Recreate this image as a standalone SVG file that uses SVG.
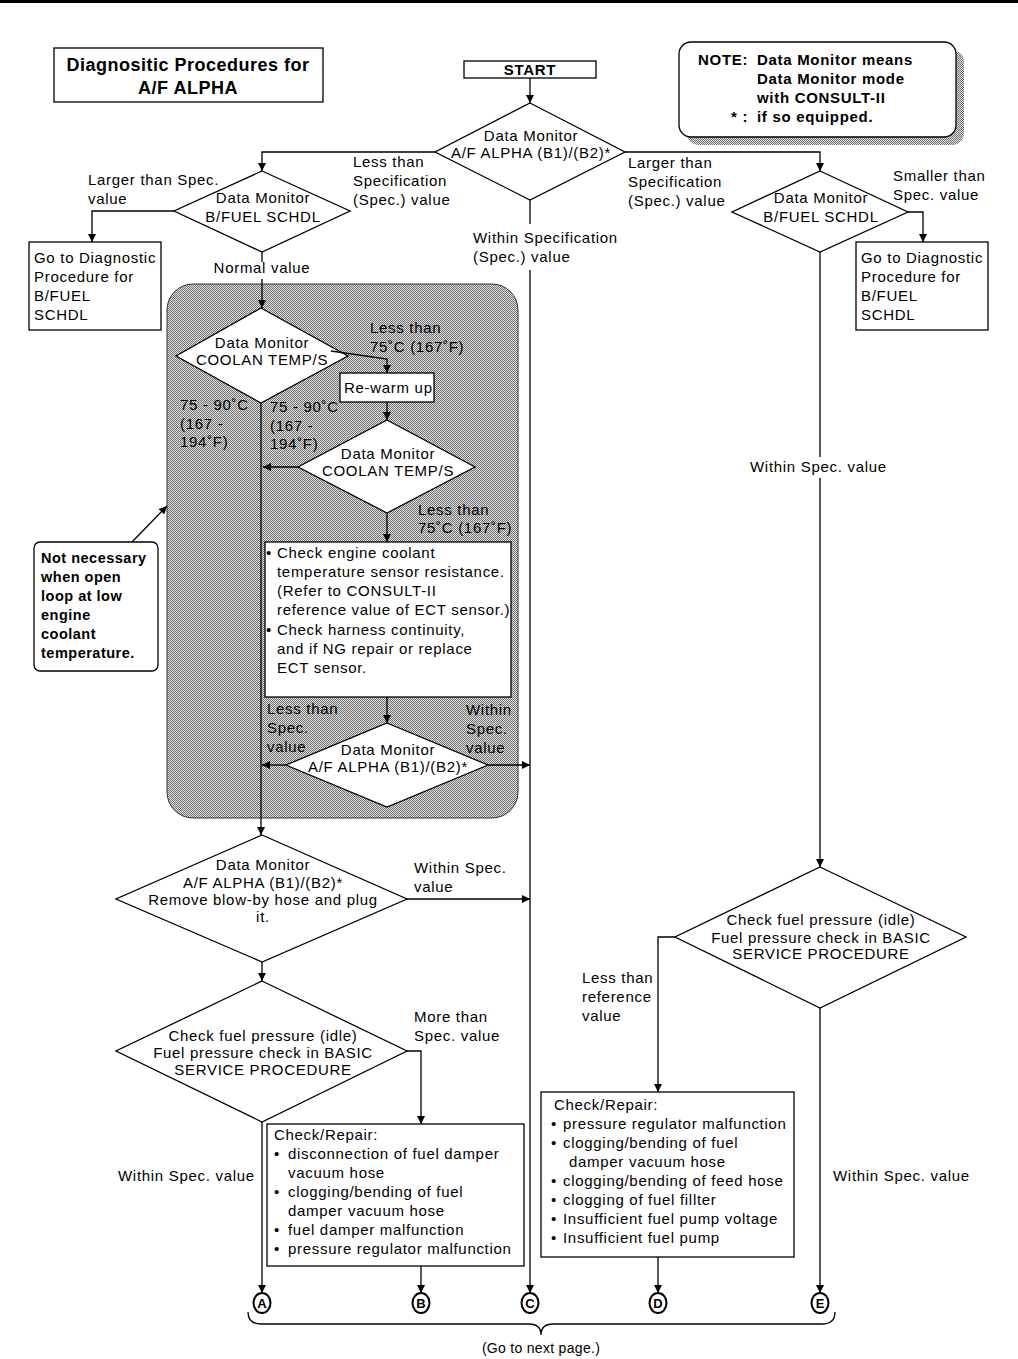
<svg xmlns="http://www.w3.org/2000/svg" width="1018" height="1359" viewBox="0 0 1018 1359">
<style>
.t{font-family:"Liberation Sans",Arial,sans-serif;font-size:15px;letter-spacing:0.7px;fill:#000}
.c{text-anchor:middle}
.b{font-weight:bold}
.box{fill:#fff;stroke:#000;stroke-width:1.3}
.ln{fill:none;stroke:#000;stroke-width:1.3}
.ar{fill:none;stroke:#000;stroke-width:1.3;marker-end:url(#ah)}
</style>
<defs>
<pattern id="dot" width="2" height="2" patternUnits="userSpaceOnUse"><rect width="2" height="2" fill="#e2e2e2"/><rect width="1" height="1" fill="#707070"/><rect x="1" y="1" width="1" height="1" fill="#707070"/></pattern>
<marker id="ah" viewBox="0 0 10 10" refX="10" refY="5" markerWidth="9" markerHeight="8" markerUnits="userSpaceOnUse" orient="auto"><path d="M0,0 L10,5 L0,10 z" fill="#000"/></marker>
</defs>
<rect x="0" y="0" width="1018" height="1359" fill="#fff"/>
<rect x="0" y="0" width="1018" height="3" fill="#000"/>

<g id="shade">
<rect x="167" y="284" width="351" height="534" rx="26" fill="url(#dot)" stroke="#333" stroke-width="1"/>
</g>

<g id="title">
<rect class="box" x="54" y="48" width="269" height="54"/>
<text class="t b c" style="font-size:18px;letter-spacing:0.5px" x="188" y="71">Diagnositic Procedures for</text>
<text class="t b c" style="font-size:18px;letter-spacing:0.5px" x="188" y="94">A/F ALPHA</text>
</g>

<g id="note">
<rect x="687" y="50" width="277" height="95" rx="12" fill="url(#dot)"/>
<rect class="box" x="679" y="42" width="277" height="95" rx="12"/>
<text class="t b" x="698" y="65">NOTE:</text>
<text class="t b" x="757" y="65">Data Monitor means</text>
<text class="t b" x="757" y="84">Data Monitor mode</text>
<text class="t b" x="757" y="103">with CONSULT-II</text>
<text class="t b" x="731" y="122">* :</text>
<text class="t b" x="757" y="122">if so equipped.</text>
</g>

<g id="start">
<rect class="box" x="464" y="61" width="132" height="17"/>
<text class="t b c" x="530" y="75">START</text>
</g>

<g id="d1">
<polygon class="box" points="530,103 625,152 530,200 435,152"/>
<text class="t c" x="531" y="141">Data Monitor</text>
<text class="t c" x="531" y="158">A/F ALPHA (B1)/(B2)*</text>
</g>

<g id="d2">
<polygon class="box" points="262,171 350,211 262,252 174,211"/>
<text class="t c" x="263" y="203">Data Monitor</text>
<text class="t c" x="263" y="222">B/FUEL SCHDL</text>
</g>

<g id="box-left">
<rect class="box" x="29" y="242" width="132" height="88"/>
<text class="t" x="34" y="263">Go to Diagnostic</text>
<text class="t" x="34" y="282">Procedure for</text>
<text class="t" x="34" y="301">B/FUEL</text>
<text class="t" x="34" y="320">SCHDL</text>
</g>

<g id="d4">
<polygon class="box" points="820,171 908,212 820,252 732,212"/>
<text class="t c" x="821" y="203">Data Monitor</text>
<text class="t c" x="821" y="222">B/FUEL SCHDL</text>
</g>

<g id="box-right">
<rect class="box" x="856" y="242" width="132" height="88"/>
<text class="t" x="861" y="263">Go to Diagnostic</text>
<text class="t" x="861" y="282">Procedure for</text>
<text class="t" x="861" y="301">B/FUEL</text>
<text class="t" x="861" y="320">SCHDL</text>
</g>

<g id="d3">
<polygon class="box" points="261,308 348,356 261,403 176,356"/>
<text class="t c" x="262" y="348">Data Monitor</text>
<text class="t c" x="262" y="365">COOLAN TEMP/S</text>
</g>

<g id="rewarm">
<rect class="box" x="340" y="373" width="94" height="29"/>
<text class="t" x="344" y="393">Re-warm up</text>
</g>

<g id="d5">
<polygon class="box" points="387,420 475,467 387,513 298,467"/>
<text class="t c" x="388" y="459">Data Monitor</text>
<text class="t c" x="388" y="476">COOLAN TEMP/S</text>
</g>

<g id="check-ect">
<rect class="box" x="265" y="542" width="246" height="155"/>
<text class="t" x="266" y="558">•</text>
<text class="t" x="277" y="558">Check engine coolant</text>
<text class="t" x="277" y="577">temperature sensor resistance.</text>
<text class="t" x="277" y="596">(Refer to CONSULT-II</text>
<text class="t" x="277" y="615">reference value of ECT sensor.)</text>
<text class="t" x="266" y="635">•</text>
<text class="t" x="277" y="635">Check harness continuity,</text>
<text class="t" x="277" y="654">and if NG repair or replace</text>
<text class="t" x="277" y="673">ECT sensor.</text>
</g>

<g id="d6">
<polygon class="box" points="387,723 488,765 387,807 286,765"/>
<text class="t c" x="388" y="755">Data Monitor</text>
<text class="t c" x="388" y="772">A/F ALPHA (B1)/(B2)*</text>
</g>

<g id="note-left">
<rect class="box" x="34" y="542" width="124" height="129" rx="6"/>
<text class="t b" style="font-size:14.5px;letter-spacing:0.5px" x="41" y="563">Not necessary</text>
<text class="t b" style="font-size:14.5px;letter-spacing:0.5px" x="41" y="582">when open</text>
<text class="t b" style="font-size:14.5px;letter-spacing:0.5px" x="41" y="601">loop at low</text>
<text class="t b" style="font-size:14.5px;letter-spacing:0.5px" x="41" y="620">engine</text>
<text class="t b" style="font-size:14.5px;letter-spacing:0.5px" x="41" y="639">coolant</text>
<text class="t b" style="font-size:14.5px;letter-spacing:0.5px" x="41" y="658">temperature.</text>
</g>

<g id="d7">
<polygon class="box" points="262,835 407,899 262,962 116,899"/>
<text class="t c" x="263" y="870">Data Monitor</text>
<text class="t c" x="263" y="888">A/F ALPHA (B1)/(B2)*</text>
<text class="t c" x="263" y="905">Remove blow-by hose and plug</text>
<text class="t c" x="263" y="922">it.</text>
</g>

<g id="d8">
<polygon class="box" points="262,981 407,1051 262,1122 116,1051"/>
<text class="t c" x="263" y="1041">Check fuel pressure (idle)</text>
<text class="t c" x="263" y="1058">Fuel pressure check in BASIC</text>
<text class="t c" x="263" y="1075">SERVICE PROCEDURE</text>
</g>

<g id="box-b">
<rect class="box" x="267" y="1124" width="257" height="142"/>
<text class="t" x="274" y="1140">Check/Repair:</text>
<text class="t" x="274" y="1159">•</text>
<text class="t" x="288" y="1159">disconnection of fuel damper</text>
<text class="t" x="288" y="1178">vacuum hose</text>
<text class="t" x="274" y="1197">•</text>
<text class="t" x="288" y="1197">clogging/bending of fuel</text>
<text class="t" x="288" y="1216">damper vacuum hose</text>
<text class="t" x="274" y="1235">•</text>
<text class="t" x="288" y="1235">fuel damper malfunction</text>
<text class="t" x="274" y="1254">•</text>
<text class="t" x="288" y="1254">pressure regulator malfunction</text>
</g>

<g id="d9">
<polygon class="box" points="820,867 966,937 820,1008 675,937"/>
<text class="t c" x="821" y="925">Check fuel pressure (idle)</text>
<text class="t c" x="821" y="943">Fuel pressure check in BASIC</text>
<text class="t c" x="821" y="959">SERVICE PROCEDURE</text>
</g>

<g id="box-d">
<rect class="box" x="541" y="1092" width="253" height="165"/>
<text class="t" x="554" y="1110">Check/Repair:</text>
<text class="t" x="551" y="1129">•</text>
<text class="t" x="563" y="1129">pressure regulator malfunction</text>
<text class="t" x="551" y="1148">•</text>
<text class="t" x="563" y="1148">clogging/bending of fuel</text>
<text class="t" x="569" y="1167">damper vacuum hose</text>
<text class="t" x="551" y="1186">•</text>
<text class="t" x="563" y="1186">clogging/bending of feed hose</text>
<text class="t" x="551" y="1205">•</text>
<text class="t" x="563" y="1205">clogging of fuel fillter</text>
<text class="t" x="551" y="1224">•</text>
<text class="t" x="563" y="1224">Insufficient fuel pump voltage</text>
<text class="t" x="551" y="1243">•</text>
<text class="t" x="563" y="1243">Insufficient fuel pump</text>
</g>

<g id="connectors">
<path class="ar" d="M530,78 V103"/>
<path class="ar" d="M435,152 H262 V171"/>
<path class="ar" d="M174,211 H92 V242"/>
<path class="ln" d="M262,252 V262"/>
<path class="ar" d="M262,279 V308"/>
<path class="ar" d="M625,152 H820 V171"/>
<path class="ar" d="M908,212 H923 V242"/>
<path class="ln" d="M820,252 V457"/>
<path class="ar" d="M820,478 V867"/>
<path class="ln" d="M530,200 V224"/>
<path class="ar" d="M530,270 V1293"/>
<path class="ar" d="M331,351 L387,359 V373"/>
<path class="ar" d="M387,402 V420"/>
<path class="ar" d="M298,467 H263"/>
<path class="ar" d="M261,403 V835"/>
<path class="ar" d="M387,513 V542"/>
<path class="ar" d="M387,697 V723"/>
<path class="ar" d="M286,765 H262"/>
<path class="ar" d="M488,765 H530"/>
<path class="ar" d="M407,899 H530"/>
<path class="ar" d="M262,962 V981"/>
<path class="ar" d="M407,1051 H421 V1124"/>
<path class="ar" d="M262,1122 V1293"/>
<path class="ar" d="M421,1266 V1293"/>
<path class="ar" d="M675,937 H658 V1092"/>
<path class="ar" d="M658,1257 V1293"/>
<path class="ar" d="M820,1008 V1293"/>
<path class="ar" d="M132,542 L167,506"/>
<path class="ln" d="M248,1312 Q248,1324 261,1324 H529 Q541,1324 541,1335 Q541,1324 553,1324 H822 Q835,1324 835,1312" stroke-width="1.6"/>
</g>

<g id="labels">
<text class="t" x="353" y="167">Less than</text>
<text class="t" x="353" y="186">Specification</text>
<text class="t" x="353" y="205">(Spec.) value</text>
<text class="t" x="88" y="185">Larger than Spec.</text>
<text class="t" x="88" y="204">value</text>
<text class="t c" x="262" y="273">Normal value</text>
<text class="t" x="628" y="168">Larger than</text>
<text class="t" x="628" y="187">Specification</text>
<text class="t" x="628" y="206">(Spec.) value</text>
<text class="t" x="893" y="181">Smaller than</text>
<text class="t" x="893" y="200">Spec. value</text>
<text class="t" x="473" y="243">Within Specification</text>
<text class="t" x="473" y="262">(Spec.) value</text>
<text class="t" x="750" y="472">Within Spec. value</text>
<text class="t" x="370" y="333">Less than</text>
<text class="t" x="370" y="352">75˚C (167˚F)</text>
<text class="t" x="180" y="410">75 - 90˚C</text>
<text class="t" x="180" y="429">(167 -</text>
<text class="t" x="180" y="447">194˚F)</text>
<text class="t" x="270" y="412">75 - 90˚C</text>
<text class="t" x="270" y="431">(167 -</text>
<text class="t" x="270" y="449">194˚F)</text>
<text class="t" x="418" y="515">Less than</text>
<text class="t" x="418" y="533">75˚C (167˚F)</text>
<text class="t" x="267" y="714">Less than</text>
<text class="t" x="267" y="733">Spec.</text>
<text class="t" x="267" y="752">value</text>
<text class="t" x="466" y="715">Within</text>
<text class="t" x="466" y="734">Spec.</text>
<text class="t" x="466" y="753">value</text>
<text class="t" x="414" y="873">Within Spec.</text>
<text class="t" x="414" y="892">value</text>
<text class="t" x="414" y="1022">More than</text>
<text class="t" x="414" y="1041">Spec. value</text>
<text class="t" x="582" y="983">Less than</text>
<text class="t" x="582" y="1002">reference</text>
<text class="t" x="582" y="1021">value</text>
<text class="t" x="118" y="1181">Within Spec. value</text>
<text class="t" x="833" y="1181">Within Spec. value</text>
<text class="t c" x="541" y="1353" style="font-size:14px;letter-spacing:0.3px">(Go to next page.)</text>
</g>

<g id="conn-a"><ellipse cx="262" cy="1303" rx="8.5" ry="10" fill="#fff" stroke="#000" stroke-width="2"/><text class="t b c" style="font-size:13px;letter-spacing:0" x="262" y="1308">A</text></g>
<g id="conn-b"><ellipse cx="421" cy="1303" rx="8.5" ry="10" fill="#fff" stroke="#000" stroke-width="2"/><text class="t b c" style="font-size:13px;letter-spacing:0" x="421" y="1308">B</text></g>
<g id="conn-c"><ellipse cx="530" cy="1303" rx="8.5" ry="10" fill="#fff" stroke="#000" stroke-width="2"/><text class="t b c" style="font-size:13px;letter-spacing:0" x="530" y="1308">C</text></g>
<g id="conn-d"><ellipse cx="658" cy="1303" rx="8.5" ry="10" fill="#fff" stroke="#000" stroke-width="2"/><text class="t b c" style="font-size:13px;letter-spacing:0" x="658" y="1308">D</text></g>
<g id="conn-e"><ellipse cx="820" cy="1303" rx="8.5" ry="10" fill="#fff" stroke="#000" stroke-width="2"/><text class="t b c" style="font-size:13px;letter-spacing:0" x="820" y="1308">E</text></g>
</svg>
